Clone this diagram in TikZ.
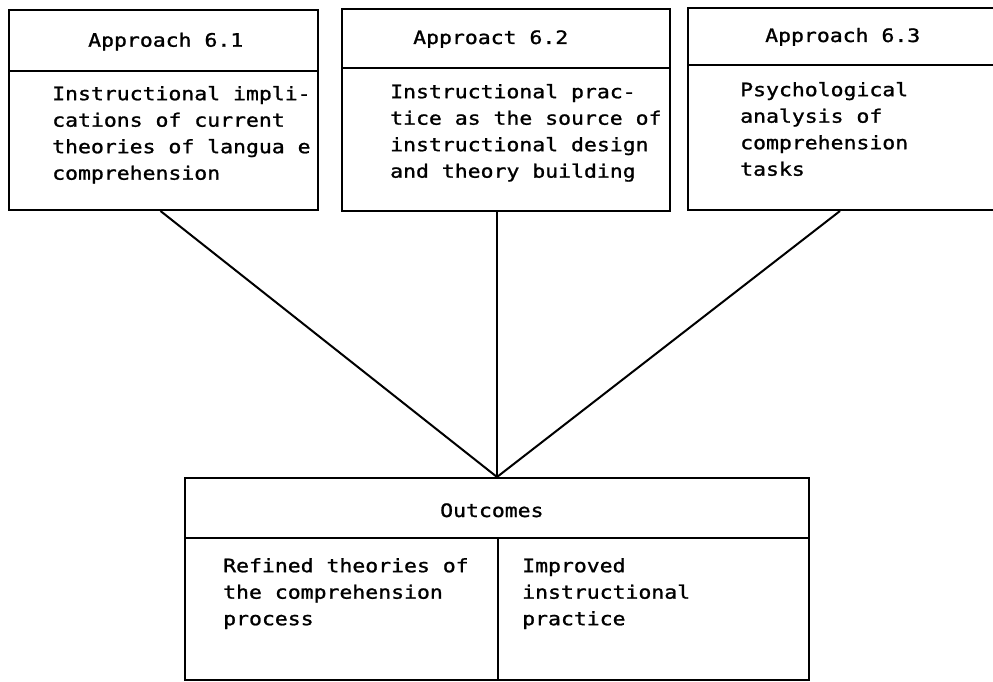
\documentclass[tikz,border=0pt]{standalone}
\usepackage{fontspec}
\newfontfamily\tw[FakeStretch=1.16,FakeBold=1.2]{DejaVu Sans Mono}
\begin{document}
\begin{tikzpicture}[x=1pt,y=-1pt,
  box/.style={draw,line width=2pt,inner sep=0pt,rectangle},
  txt/.style={inner sep=0pt,font=\tw\fontsize{18.5}{26.5}\selectfont,align=left},
  link/.style={line width=2pt}]
\clip (0,0) rectangle (993,682);
% Approach 6.1
\node[box,minimum width=309pt,minimum height=61pt] (h1) at (163.5,40.5) {};
\node[box,minimum width=309pt,minimum height=139pt] (b1) at (163.5,140.5) {};
% Approach 6.2
\node[box,minimum width=328pt,minimum height=59pt] (h2) at (506,38.5) {};
\node[box,minimum width=328pt,minimum height=143pt] (b2) at (506,139.5) {};
% Approach 6.3
\node[box,minimum width=310pt,minimum height=57pt] (h3) at (843,36.5) {};
\node[box,minimum width=310pt,minimum height=145pt] (b3) at (843,137.5) {};
% Outcomes
\node[box,minimum width=624pt,minimum height=60pt] (h4) at (497,508) {};
\node[box,minimum width=313pt,minimum height=142pt] (b4) at (341.5,609) {};
\node[box,minimum width=311pt,minimum height=142pt] (b5) at (653.5,609) {};
% texts
\node[txt,anchor=base west] (t1) at (88,46.7) {Approach 6.1};
\node[txt,anchor=north west] (d1) at (52,81.45) {\strut Instructional impli-\\cations of current\\theories of langua e\\comprehension};
\node[txt,anchor=base west] (t2) at (413,44) {Approact 6.2};
\node[txt,anchor=north west] (d2) at (390,79.45) {\strut Instructional prac-\\tice as the source of\\instructional design\\and theory building};
\node[txt,anchor=base west] (t3) at (765,42) {Approach 6.3};
\node[txt,anchor=north west] (d3) at (740,77.45) {\strut Psychological\\analysis of\\comprehension\\tasks};
\node[txt,anchor=base west] (t4) at (440,517) {Outcomes};
\node[txt,anchor=north west] (d4) at (223,553.45) {\strut Refined theories of\\the comprehension\\process};
\node[txt,anchor=north west] (d5) at (522,553.45) {\strut Improved\\instructional\\practice};
% connectors
\draw[link] ([xshift=-3pt]b1.south) -- (h4.north);
\draw[link] (b2.south -| h4.north) -- (h4.north);
\draw[link] ([xshift=-3pt]b3.south) -- (h4.north);
\end{tikzpicture}
\end{document}
